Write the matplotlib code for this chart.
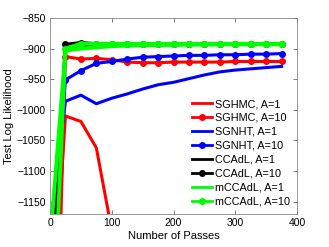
import numpy as np
import matplotlib
matplotlib.use("Agg")
import matplotlib.pyplot as plt

# number of passes (one point every 25 passes)
passes = [0, 25, 50, 75, 100, 125, 150, 175, 200, 225, 250, 275, 300, 325, 350, 375]

# test log likelihood per method
sghmc_a1 = [-1400, -1010, -1019, -1062, -1197, -1350, -1500, -1600, -1700, -1800,
            -1900, -2000, -2100, -2200, -2300, -2400]
sghmc_a10 = [-1800, -913, -917, -916, -918, -922, -923, -923, -922, -922,
             -922, -922, -921, -921, -921, -921]
sgnht_a1 = [-1197, -986, -976, -990, -981, -974, -966, -959, -955, -949,
            -943, -938, -935, -933, -931, -929]
sgnht_a10 = [-1250, -951, -936, -924, -921, -917, -914, -913, -912, -911,
             -911, -910, -910, -909, -909, -908]
ccadl_a1 = [-1350, -899, -896, -895, -894, -893.5, -893, -893, -892.5, -892.5,
            -892.5, -892.5, -892.5, -892.5, -892.5, -892.5]
ccadl_a10 = [-1300, -893, -890, -892, -892.5, -892.5, -893, -893, -892.5, -892.5,
             -892.5, -892.5, -892.5, -892.5, -892.5, -892.5]
mccadl_a1 = [-1218, -903, -900, -898, -896, -895, -894.5, -894, -894, -893.5,
             -893.5, -893, -893, -893, -893, -893]
mccadl_a10 = [-1478, -900, -892, -892, -892, -892, -892, -892, -892, -892,
              -892, -892, -892, -892, -892, -892]

plt.rcParams['font.family'] = ['Liberation Sans', 'DejaVu Sans']

fig = plt.figure(figsize=(3.29, 2.47), dpi=100)
ax = fig.add_axes([0.152, 0.134, 0.751, 0.793])

ms = 4
ax.plot(passes, sghmc_a1, color='#ff0000', lw=2.2, label='SGHMC, A=1')
ax.plot(passes, sghmc_a10, color='#ff0000', lw=2.2, marker='o', ms=ms, label='SGHMC, A=10')
ax.plot(passes, sgnht_a1, color='#0000ff', lw=2.2, label='SGNHT, A=1')
ax.plot(passes, sgnht_a10, color='#0000ff', lw=2.2, marker='o', ms=ms, label='SGNHT, A=10')
ax.plot(passes, ccadl_a1, color='black', lw=2.2, label='CCAdL, A=1')
ax.plot(passes, ccadl_a10, color='black', lw=2.2, marker='o', ms=ms, label='CCAdL, A=10')
ax.plot(passes, mccadl_a1, color='#00ff00', lw=2.8, label='mCCAdL, A=1')
ax.plot(passes, mccadl_a10, color='#00ff00', lw=2.8, marker='o', ms=ms, label='mCCAdL, A=10')

ax.set_xlim(0, 400)
ax.set_ylim(-1170, -850)
ax.set_xticks([0, 100, 200, 300, 400])
ax.set_yticks([-1150, -1100, -1050, -1000, -950, -900, -850])
ax.tick_params(direction='in', top=True, right=True, labelsize=7.5,
               length=3, width=0.6, color='#666666', pad=3)
for s in ax.spines.values():
    s.set_color('#888888')
    s.set_linewidth(0.6)

ax.set_xlabel('Number of Passes', fontsize=8, labelpad=2)
ax.set_ylabel('Test Log Likelihood', fontsize=8, labelpad=2)

leg = ax.legend(loc='lower right', fontsize=7.8, frameon=False, handlelength=1.9,
                handletextpad=0.2, labelspacing=0.36, borderaxespad=0.3)
for line in leg.get_lines():
    line.set_linewidth(2.0)

fig.savefig('out.png', dpi=100)
